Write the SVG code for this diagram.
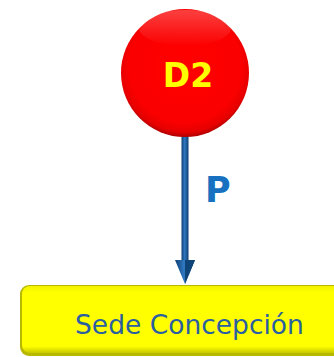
<svg xmlns="http://www.w3.org/2000/svg" width="334" height="357" viewBox="0 0 334 357">
<defs>
<radialGradient id="red" cx="50%" cy="45%" r="55%">
<stop offset="0" stop-color="#ff0000"/>
<stop offset="0.8" stop-color="#fa0000"/>
<stop offset="0.93" stop-color="#e60000"/>
<stop offset="1" stop-color="#b00000"/>
</radialGradient>
<linearGradient id="hi" x1="0" y1="0" x2="0" y2="1">
<stop offset="0" stop-color="#ffffff" stop-opacity="0.25"/>
<stop offset="1" stop-color="#ffffff" stop-opacity="0"/>
</linearGradient>
<linearGradient id="shaft" x1="0" y1="0" x2="1" y2="0">
<stop offset="0" stop-color="#0e3f74"/>
<stop offset="0.45" stop-color="#2f78c0"/>
<stop offset="1" stop-color="#0d3e70"/>
</linearGradient>
<linearGradient id="box" x1="0" y1="0" x2="0" y2="1">
<stop offset="0" stop-color="#f2f200"/>
<stop offset="0.1" stop-color="#ffff00"/>
<stop offset="0.9" stop-color="#ffff00"/>
<stop offset="1" stop-color="#c8c800"/>
</linearGradient>
<style>
.lbl{font-family:"DejaVu Sans",Verdana,sans-serif;}
</style>
</defs>
<g id="connectors">
<rect x="181.5" y="135" width="7" height="128" fill="url(#shaft)"/>
<polygon points="175,260 195,260 185,284" fill="url(#shaft)"/>
<polygon points="185,260 195,260 185,284" fill="#0f4478"/>
<text class="lbl" x="205" y="202" font-size="35" font-weight="bold" fill="#1771c0">P</text>
</g>
<g id="node-d2">
<circle cx="185" cy="73" r="64" fill="url(#red)"/>
<ellipse cx="185" cy="28" rx="46" ry="18" fill="url(#hi)"/>
<text class="lbl" x="188" y="87" font-size="33" font-weight="bold" fill="#ffff00" text-anchor="middle">D2</text>
</g>
<g id="node-sede">
<rect x="20" y="285" width="330" height="71" rx="9" fill="#b8b800"/>
<rect x="22" y="286" width="328" height="67" rx="8" fill="url(#box)"/>
<text class="lbl" x="75" y="334" font-size="26.5" fill="#2a5fa0">Sede Concepción</text>
</g>
</svg>
